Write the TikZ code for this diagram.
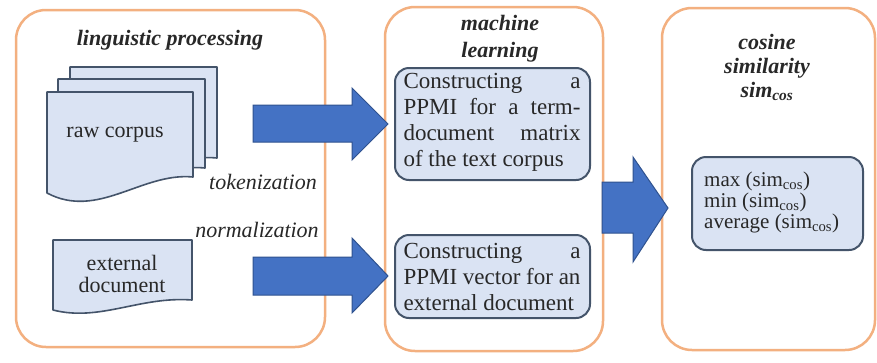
\documentclass[tikz,border=0pt]{standalone}
\usepackage{fontspec}
\setmainfont{Liberation Serif}
\definecolor{orangec}{RGB}{243,176,128}
\definecolor{boxf}{RGB}{218,227,243}
\definecolor{boxb}{RGB}{68,84,106}
\definecolor{arrf}{RGB}{68,114,196}
\definecolor{arrb}{RGB}{47,82,143}
\definecolor{txt}{RGB}{40,40,40}
\begin{document}
\begin{tikzpicture}[x=1pt,y=-1pt,
  panel/.style={draw=orangec, line width=2.5pt, rounded corners=30pt, fill=white, inner sep=0pt, outer sep=0pt},
  ibox/.style={draw=boxb, line width=2pt, fill=boxf, rounded corners=14pt, inner sep=0pt},
  docshape/.style={draw=boxb, line width=1.6pt, fill=boxf, line join=round},
  barrow/.style={draw=arrb, line width=1pt, fill=arrf, line join=miter},
  ttl/.style={font=\fontsize{22}{27}\selectfont\bfseries\itshape, align=center, text=txt, inner sep=0pt},
  lbl/.style={font=\fontsize{22}{26}\selectfont\itshape, text=txt, inner sep=0pt},
  body/.style={font=\fontsize{22}{22}\selectfont, text=txt, align=center, inner sep=0pt},
  mbody/.style={font=\fontsize{23}{26}\selectfont, text=txt, text width=177pt, align=justify, inner sep=0pt},
  rbody/.style={font=\fontsize{21}{21}\selectfont, text=txt, inner sep=0pt, anchor=base west}]
\useasboundingbox (0,0) rectangle (877,362);
\fill[white] (0,0) rectangle (877,362);

% panels
\node[panel, minimum width=309pt, minimum height=337pt] (lp) at (170.5,178.5) {};
\node[panel, minimum width=218pt, minimum height=344pt] (mp) at (494,179) {};
\node[panel, minimum width=213pt, minimum height=342pt] (rp) at (768.5,179) {};

% titles
\node[ttl] (t1) at (170,40) {linguistic processing};
\node[ttl] (t2) at (500,39) {machine\\learning};
\node[ttl, font=\fontsize{22}{24}\selectfont\bfseries\itshape] (t3) at (767,67) {cosine\\similarity\\sim\textsubscript{cos}};

% raw corpus stack
\draw[docshape] (70,67) -- (217,67) -- (217,158) .. controls (167,153) and (120,196) .. (70,174) -- cycle;
\draw[docshape] (58,79) -- (205,79) -- (205,168) .. controls (155,163) and (108,206) .. (58,184) -- cycle;
\draw[docshape] (47,92) -- (193,92) -- (193,177) .. controls (142,172) and (98,220) .. (47,193) -- cycle;
\node[body] (raw) at (115,135) {raw corpus};

% external document
\draw[docshape] (53,240) -- (192,240) -- (192,300) .. controls (140,296) and (100,322) .. (53,310) -- cycle;
\node[body] (ext) at (122,274) {external\\document};

% labels
\node[lbl] (tok) at (263,182) {tokenization};
\node[lbl] (norm) at (257,230) {normalization};

% middle boxes
\node[ibox, minimum width=195pt, minimum height=112pt] (b1) at (492.5,124) {};
\node[mbody] (b1t) at (492,122) {Constructing a\linebreak PPMI for a term-\linebreak document matrix\linebreak of the text corpus};
\node[ibox, minimum width=195pt, minimum height=83pt] (b2) at (492.5,276.5) {};
\node[mbody] (b2t) at (492,277) {Constructing a\linebreak PPMI vector for an\linebreak external document};

% right box
\node[ibox, minimum width=171pt, minimum height=93pt] (b3) at (777.5,203.5) {};
\node[rbody] (r1) at (704,186) {max (sim\textsubscript{cos})};
\node[rbody] (r2) at (704,207) {min (sim\textsubscript{cos})};
\node[rbody] (r3) at (704,228) {average (sim\textsubscript{cos})};

% block arrows
\draw[barrow] (253,105) -- (352,105) -- (352,88) -- (388,124) -- (352,160) -- (352,142) -- (253,142) -- cycle;
\draw[barrow] (253,257) -- (352,257) -- (352,238) -- (388,276) -- (352,313) -- (352,295) -- (253,295) -- cycle;
\draw[barrow] (602,182) -- (633,182) -- (633,157) -- (668,208) -- (633,262) -- (633,233) -- (602,233) -- cycle;
\end{tikzpicture}
\end{document}
